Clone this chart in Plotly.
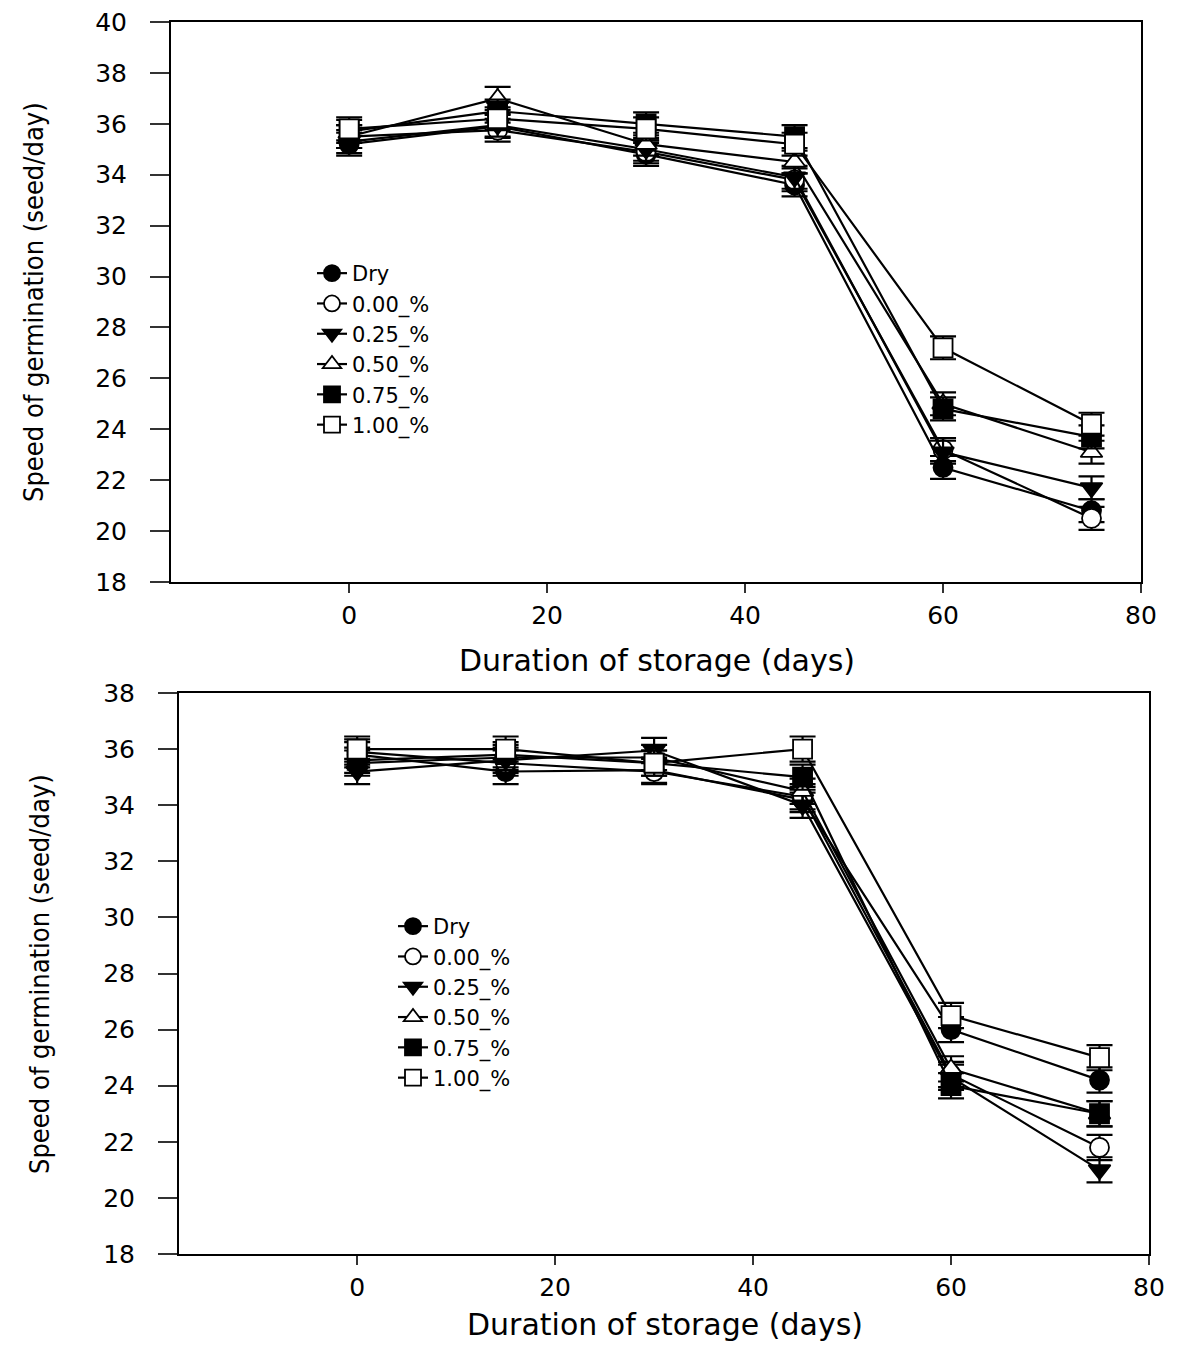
import plotly.graph_objects as go

days = [0, 15, 30, 45, 60, 75]
series_names = ["Dry", "0.00_%", "0.25_%", "0.50_%", "0.75_%", "1.00_%"]

# Top panel
top_dry = [35.2, 35.9, 34.8, 33.6, 22.5, 20.8]
top_000 = [35.5, 35.75, 34.9, 33.8, 23.2, 20.5]
top_025 = [35.3, 35.95, 35.0, 33.9, 23.1, 21.7]
top_050 = [35.5, 37.0, 35.2, 34.5, 25.0, 23.1]
top_075 = [35.7, 36.5, 36.0, 35.5, 24.8, 23.7]
top_100 = [35.8, 36.2, 35.8, 35.2, 27.2, 24.2]
top_err = [0.45, 0.45, 0.45, 0.45, 0.45, 0.45]

# Bottom panel
bot_dry = [35.8, 35.2, 35.25, 34.2, 26.0, 24.2]
bot_000 = [35.9, 35.5, 35.2, 34.3, 24.4, 21.8]
bot_025 = [35.2, 35.6, 35.95, 34.0, 24.3, 21.0]
bot_050 = [35.5, 35.7, 35.7, 34.5, 24.6, 23.0]
bot_075 = [35.6, 35.8, 35.5, 35.0, 24.0, 23.0]
bot_100 = [36.0, 36.0, 35.5, 36.0, 26.5, 25.0]
bot_err = [0.45, 0.45, 0.45, 0.45, 0.45, 0.45]

y_ticks_top = [18, 20, 22, 24, 26, 28, 30, 32, 34, 36, 38, 40]
y_ticks_bot = [18, 20, 22, 24, 26, 28, 30, 32, 34, 36, 38]
x_ticks = [0, 20, 40, 60, 80]

fills = ["black", "white", "black", "white", "black", "white"]
base_symbols = ["circle", "circle", "triangle-down", "triangle-up", "square", "square"]

# page has an 8px body margin; place everything in page pixel terms
OFF = 8
FW, FH = 1177 - 2 * OFF, 1352 - 2 * OFF


def px(x):
    return (x - OFF) / FW


def py(y):
    return 1 - (y - OFF) / FH


fig = go.Figure()

top_data = [top_dry, top_000, top_025, top_050, top_075, top_100]
bot_data = [bot_dry, bot_000, bot_025, bot_050, bot_075, bot_100]

for panel, data, err in (("1", top_data, top_err), ("2", bot_data, bot_err)):
    for i, (name, ys) in enumerate(zip(series_names, data)):
        fig.add_trace(go.Scatter(
            x=days, y=ys, name=name, mode="lines+markers",
            xaxis="x" if panel == "1" else "x2",
            yaxis="y" if panel == "1" else "y2",
            legend="legend" if panel == "1" else "legend2",
            line=dict(color="black", width=2.2),
            marker=dict(symbol=base_symbols[i], size=19, color=fills[i],
                        line=dict(color="black", width=1.8)),
            error_y=dict(type="data", array=err, color="black", thickness=2.2, width=13),
        ))

tickfont = dict(family="DejaVu Sans", size=25, color="black")
axis_common = dict(
    showgrid=False, zeroline=False, showline=True, linecolor="black", linewidth=2,
    mirror=True, ticks="outside", tickcolor="#333333", tickwidth=1.5,
    tickfont=tickfont, automargin=False, ticklabeloverflow="allow",
)
legfont = dict(family="DejaVu Sans", size=21, color="black")
ytitle_font = dict(family="Liberation Sans Narrow, DejaVu Sans Condensed, Liberation Sans, sans-serif",
                   size=27, color="black")
xtitle_font = dict(family="DejaVu Sans", size=30, color="black")

fig.update_layout(
    width=FW, height=FH,
    margin=dict(l=0, r=0, t=0, b=0),
    paper_bgcolor="white", plot_bgcolor="white",
    showlegend=True,
    xaxis=dict(domain=[px(171), px(1141)], anchor="y", range=[-18, 80],
               tickvals=x_ticks, ticklen=9, ticklabelstandoff=1, **axis_common),
    yaxis=dict(domain=[py(582), py(22)], anchor="x", range=[18, 40],
               tickvals=y_ticks_top, ticklen=19, ticklabelstandoff=18, **axis_common),
    xaxis2=dict(domain=[px(179), px(1149)], anchor="y2", range=[-18, 80],
                tickvals=x_ticks, ticklen=9, ticklabelstandoff=1, **axis_common),
    yaxis2=dict(domain=[py(1254), py(693)], anchor="x2", range=[18, 38],
                tickvals=y_ticks_bot, ticklen=19, ticklabelstandoff=18, **axis_common),
    legend=dict(x=px(312), y=py(253), xanchor="left", yanchor="top",
                bgcolor="rgba(0,0,0,0)", font=legfont, tracegroupgap=0),
    legend2=dict(x=px(393), y=py(906), xanchor="left", yanchor="top",
                 bgcolor="rgba(0,0,0,0)", font=legfont, tracegroupgap=0),
    annotations=[
        dict(text="Speed of germination (seed/day)", textangle=-90, xref="paper", yref="paper",
             x=px(33), y=py(302), xanchor="center", yanchor="middle", showarrow=False,
             font=ytitle_font),
        dict(text="Duration of storage (days)", xref="paper", yref="paper",
             x=px(657), y=py(660), xanchor="center", yanchor="middle", showarrow=False,
             font=xtitle_font),
        dict(text="Speed of germination (seed/day)", textangle=-90, xref="paper", yref="paper",
             x=px(40), y=py(974), xanchor="center", yanchor="middle", showarrow=False,
             font=ytitle_font),
        dict(text="Duration of storage (days)", xref="paper", yref="paper",
             x=px(665), y=0, xanchor="center", yanchor="bottom", showarrow=False,
             font=xtitle_font),
    ],
)

fig.write_html("out.html")
